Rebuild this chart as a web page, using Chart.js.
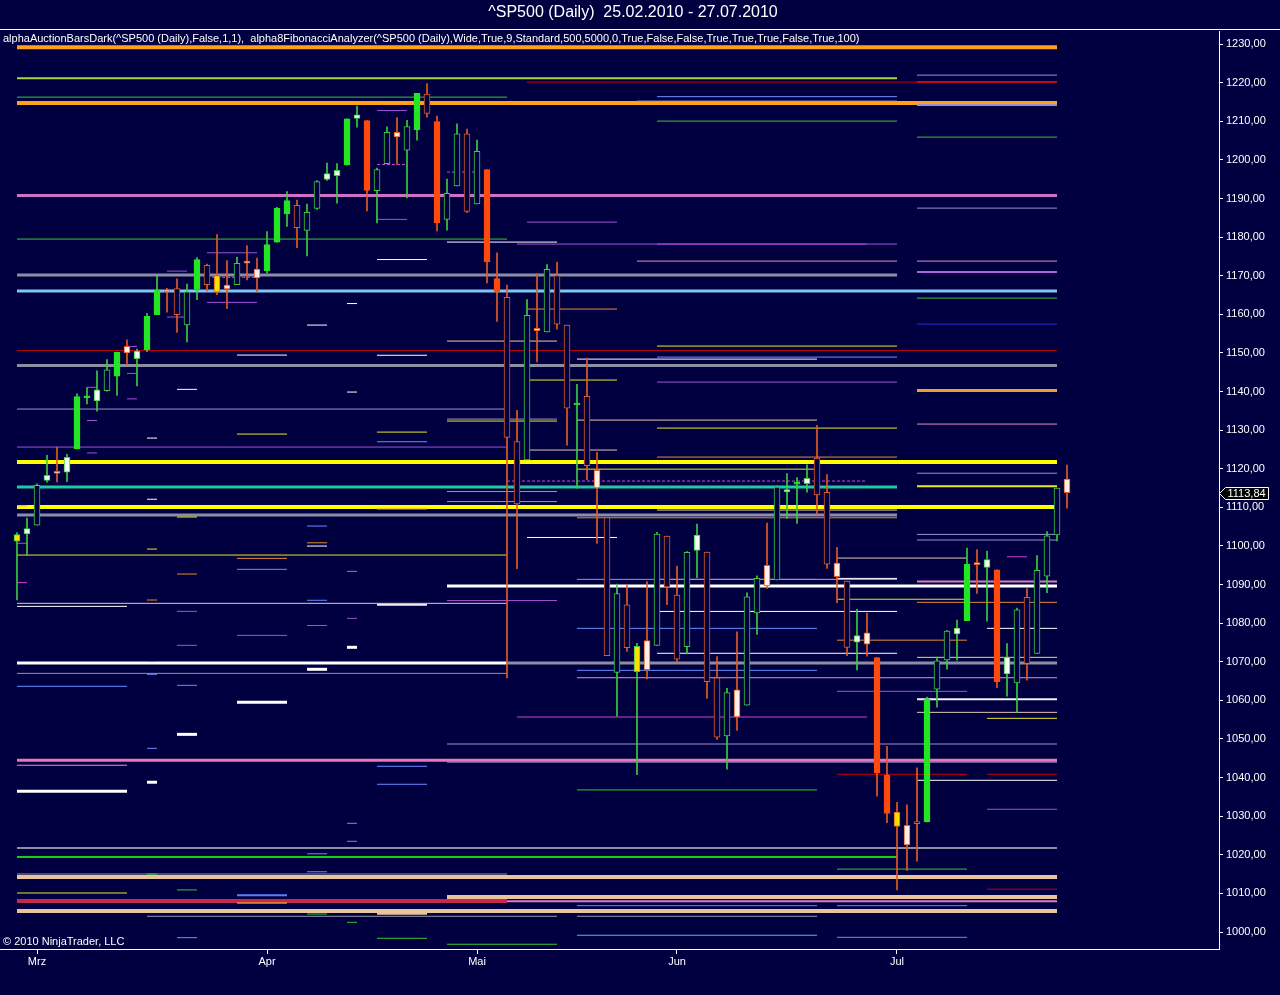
<!DOCTYPE html>
<html>
<head>
<meta charset="utf-8">
<title>^SP500 (Daily)</title>
<script src="https://cdn.jsdelivr.net/npm/chart.js@4"></script>
<style>
  html, body { margin: 0; padding: 0; background: #000040; overflow: hidden; }
  canvas { display: block; }
</style>
</head>
<body>
<canvas id="chart" width="1280" height="995"></canvas>
<script>
// ---- daily bars, 25.02.2010 - 27.07.2010 ----
var dates = [
  '25.02', '26.02',
  '01.03', '02.03', '03.03', '04.03', '05.03', '08.03', '09.03', '10.03', '11.03', '12.03', '15.03', '16.03',
  '17.03', '18.03', '19.03', '22.03', '23.03', '24.03', '25.03', '26.03', '29.03', '30.03', '31.03',
  '01.04', '05.04', '06.04', '07.04', '08.04', '09.04', '12.04', '13.04', '14.04', '15.04', '16.04',
  '19.04', '20.04', '21.04', '22.04', '23.04', '26.04', '27.04', '28.04', '29.04', '30.04',
  '03.05', '04.05', '05.05', '06.05', '07.05', '10.05', '11.05', '12.05', '13.05', '14.05',
  '17.05', '18.05', '19.05', '20.05', '21.05', '24.05', '25.05', '26.05', '27.05', '28.05',
  '01.06', '02.06', '03.06', '04.06', '07.06', '08.06', '09.06', '10.06', '11.06', '14.06', '15.06',
  '16.06', '17.06', '18.06', '21.06', '22.06', '23.06', '24.06', '25.06', '28.06', '29.06', '30.06',
  '01.07', '02.07', '06.07', '07.07', '08.07', '09.07', '12.07', '13.07', '14.07', '15.07', '16.07',
  '19.07', '20.07', '21.07', '22.07', '23.07', '26.07', '27.07'
];

var opens = [
  1101.24, 1103.10, 1105.36, 1117.01, 1119.36, 1119.12, 1125.12, 1138.40, 1137.56, 1140.22,
  1143.96, 1151.71, 1148.53, 1150.83, 1159.94, 1166.13, 1166.68, 1157.25, 1166.47, 1172.70,
  1170.03, 1167.58, 1167.71, 1173.75, 1171.75, 1171.23, 1178.71, 1186.01, 1188.23, 1181.75,
  1187.47, 1194.94, 1195.94, 1198.69, 1210.77, 1210.17, 1192.06, 1199.04, 1207.16, 1202.52,
  1207.87, 1217.07, 1209.92, 1184.59, 1193.30, 1206.77, 1188.58, 1197.50, 1169.24, 1164.38,
  1127.04, 1122.27, 1156.39, 1155.43, 1170.04, 1157.19, 1136.52, 1138.78, 1119.57, 1107.34,
  1067.26, 1084.78, 1067.42, 1075.51, 1074.27, 1102.59, 1087.30, 1073.89, 1098.82, 1098.43,
  1065.84, 1050.81, 1062.75, 1058.77, 1082.65, 1095.00, 1091.21, 1114.02, 1115.98, 1116.16,
  1122.79, 1113.90, 1095.57, 1090.93, 1075.10, 1077.50, 1071.10, 1040.56, 1031.10, 1027.65,
  1028.09, 1028.54, 1062.92, 1070.50, 1077.23, 1080.65, 1095.61, 1094.46, 1093.85, 1066.85,
  1064.53, 1086.67, 1072.14, 1092.17, 1102.89, 1117.36
];
var highs = [
  1103.50, 1107.24, 1116.11, 1123.46, 1125.64, 1123.73, 1139.38, 1141.05, 1145.37, 1148.26,
  1150.24, 1153.41, 1150.98, 1160.28, 1169.84, 1166.77, 1169.20, 1167.82, 1174.72, 1173.04,
  1180.69, 1173.93, 1174.85, 1177.83, 1174.56, 1181.43, 1187.73, 1191.80, 1189.60, 1188.55,
  1194.66, 1199.20, 1199.04, 1210.65, 1213.92, 1210.17, 1197.87, 1208.58, 1210.99, 1210.27,
  1217.28, 1219.80, 1211.38, 1195.05, 1209.36, 1207.99, 1205.13, 1197.50, 1175.95, 1167.58,
  1135.13, 1163.85, 1170.48, 1172.87, 1173.57, 1157.19, 1141.88, 1148.66, 1124.27, 1107.34,
  1090.16, 1089.95, 1074.75, 1090.75, 1103.52, 1102.59, 1094.77, 1098.56, 1105.67, 1098.43,
  1071.36, 1063.15, 1077.74, 1087.85, 1092.25, 1105.91, 1115.59, 1118.74, 1117.72, 1121.01,
  1131.23, 1118.50, 1099.64, 1090.93, 1083.56, 1082.60, 1071.10, 1048.08, 1033.58, 1032.95,
  1042.50, 1060.89, 1071.25, 1078.16, 1080.78, 1099.46, 1099.08, 1098.66, 1093.85, 1074.70,
  1083.94, 1088.96, 1097.50, 1103.73, 1115.01, 1120.95
];
var lows = [
  1086.02, 1097.56, 1105.36, 1116.51, 1116.58, 1116.66, 1125.12, 1136.77, 1134.90, 1140.09,
  1138.99, 1146.97, 1141.45, 1150.35, 1159.94, 1160.54, 1155.33, 1152.88, 1163.83, 1166.01,
  1165.09, 1161.48, 1167.71, 1168.92, 1165.77, 1170.69, 1178.71, 1182.77, 1177.25, 1175.12,
  1187.15, 1194.71, 1188.82, 1198.69, 1208.50, 1186.77, 1183.68, 1199.04, 1198.85, 1190.19,
  1205.10, 1211.07, 1181.62, 1181.81, 1193.30, 1186.32, 1188.58, 1168.12, 1158.15, 1065.79,
  1094.15, 1122.27, 1147.71, 1155.43, 1156.14, 1126.14, 1114.96, 1117.20, 1100.66, 1071.58,
  1055.90, 1072.70, 1040.78, 1065.59, 1074.27, 1084.78, 1069.89, 1072.03, 1091.81, 1060.50,
  1049.86, 1042.17, 1052.25, 1058.77, 1077.12, 1089.03, 1091.21, 1107.13, 1105.87, 1113.93,
  1108.24, 1094.18, 1085.31, 1071.60, 1067.89, 1071.45, 1035.18, 1028.33, 1010.91, 1015.93,
  1018.35, 1028.54, 1058.24, 1068.10, 1070.45, 1080.65, 1087.68, 1080.53, 1063.32, 1061.11,
  1056.88, 1065.25, 1072.14, 1087.88, 1101.30, 1109.78
];
var closes = [
  1102.93, 1104.49, 1115.71, 1118.31, 1118.79, 1122.97, 1138.70, 1138.50, 1140.45, 1145.61,
  1150.24, 1149.99, 1150.51, 1159.46, 1166.21, 1165.83, 1159.90, 1165.81, 1174.17, 1167.72,
  1165.73, 1166.59, 1173.22, 1173.27, 1169.43, 1178.10, 1187.44, 1189.44, 1182.45, 1186.44,
  1194.37, 1196.48, 1197.30, 1210.65, 1211.67, 1192.13, 1197.52, 1207.17, 1205.94, 1208.67,
  1217.28, 1212.05, 1183.71, 1191.36, 1206.78, 1186.69, 1202.26, 1173.60, 1165.90, 1128.15,
  1110.88, 1159.73, 1155.79, 1171.67, 1157.44, 1135.68, 1136.94, 1120.80, 1115.05, 1071.59,
  1087.69, 1073.65, 1074.03, 1067.95, 1103.06, 1089.41, 1070.71, 1098.38, 1102.83, 1064.88,
  1050.47, 1062.00, 1055.69, 1086.84, 1091.60, 1089.63, 1115.23, 1114.61, 1116.04, 1117.51,
  1113.20, 1095.31, 1092.04, 1073.69, 1076.76, 1074.57, 1041.24, 1030.71, 1027.37, 1022.58,
  1028.06, 1060.27, 1070.25, 1077.96, 1078.75, 1095.34, 1095.17, 1096.48, 1064.88, 1071.25,
  1083.48, 1069.59, 1093.67, 1102.66, 1115.01, 1113.84
];

// auction bar type per day: G/R filled, g/r hollow, wg/wr white body, yg/yr yellow body
var barTypes = [
  'yg', 'wg', 'g', 'wg', 'wr', 'wg', 'G', 'G', 'wg', 'g',
  'G', 'wr', 'wg', 'G', 'G', 'wr', 'r', 'g', 'G', 'r',
  'yr', 'wr', 'g', 'wr', 'wr', 'G', 'G', 'G', 'r', 'g',
  'g', 'wg', 'wg', 'G', 'wg', 'R', 'g', 'g', 'wr', 'g',
  'G', 'r', 'R', 'g', 'g', 'r', 'g', 'R', 'R', 'r',
  'r', 'g', 'wr', 'g', 'r', 'r', 'G', 'r', 'wr', 'r',
  'g', 'r', 'yg', 'wr', 'g', 'r', 'r', 'g', 'wg', 'r',
  'r', 'g', 'wr', 'g', 'g', 'wr', 'g', 'wg', 'G', 'wg',
  'r', 'r', 'wr', 'r', 'wg', 'wr', 'R', 'R', 'yr', 'wr',
  'r', 'G', 'g', 'g', 'wg', 'G', 'wr', 'wg', 'R', 'wg',
  'g', 'r', 'g', 'g', 'g', 'wr'
];

var monthTicks = [2, 25, 46, 66, 88];
var monthLabels = ['Mrz', 'Apr', 'Mai', 'Jun', 'Jul'];
var priceTicks = [1000, 1010, 1020, 1030, 1040, 1050, 1060, 1070, 1080, 1090, 1100, 1110,
                  1120, 1130, 1140, 1150, 1160, 1170, 1180, 1190, 1200, 1210, 1220, 1230];
var lastPrice = 1113.84;

// ---- fibonacci levels: [price, first bar, last bar] ----
var orangeBandLevels = [[1229.22, 0, 104], [1214.72, 0, 104]];
var orangeMidLevels = [[1140.26, 90, 104]];
var yellowBandLevels = [[1121.74, 0, 104], [1110.08, 0, 104]];
var tanBandLevels = [[1014.25, 0, 104], [1009.07, 43, 104], [1005.45, 0, 104], [1005.0, 36, 41]];
var crimsonBandLevels = [[1008.04, 0, 49]];
var pinkBandLevels = [[1044.5, 0, 104]];
var whiteBandLevels = [[1089.62, 43, 104], [1069.68, 0, 49], [1073.75, 33, 34], [1068.05, 29, 31],
                       [1059.5, 22, 27], [1051.2, 16, 18], [1038.8, 13, 14], [1036.45, 0, 11]];
var grayBandLevels = [[1170.17, 0, 88], [1146.73, 0, 104], [1108.0, 0, 88], [1069.68, 49, 104]];
var grayMidLevels = [[1021.77, 0, 104]];
var magentaBandLevels = [[1190.76, 0, 104]];
var lightBlueBandLevels = [[1166.03, 0, 104]];
var tealBandLevels = [[1115.26, 0, 88]];
var greenBandLevels = [[1019.44, 0, 88]];
var yellowGreenLevels = [[1221.19, 0, 88]];
var redLevels = [[1220.16, 51, 104], [1150.62, 0, 104], [1040.85, 82, 95], [1040.85, 97, 104], [1011.1, 97, 104]];
var redMidLevels = [[1220.16, 90, 104]];
var greenLevels = [[1216.27, 0, 49], [1210.06, 64, 88], [1205.91, 90, 104], [1179.5, 0, 49], [1164.21, 90, 104],
                   [1036.8, 56, 80], [1016.3, 82, 95], [1015.0, 13, 14], [1010.9, 16, 18], [1004.66, 29, 31],
                   [1002.52, 33, 34], [998.38, 36, 41], [996.83, 43, 54]];
var cyanLevels = [[999.16, 56, 80]];
var yellowLevels = [[1151.78, 64, 88], [1142.98, 51, 60], [1132.36, 43, 54], [1130.54, 64, 88], [1129.5, 36, 41],
                    [1128.99, 22, 27], [1119.9, 56, 80], [1107.5, 16, 18], [1099.2, 13, 14], [1097.65, 0, 49],
                    [1086.2, 82, 95], [1071.15, 90, 104], [1055.35, 97, 104], [1010.11, 0, 11], [1007.5, 22, 27]];
var yellowMidLevels = [[1115.45, 90, 104]];
var orangeLevels = [[1161.37, 51, 60], [1123.03, 64, 88], [1111.5, 43, 54], [1109.56, 36, 41], [1107.3, 56, 88],
                    [1100.83, 29, 31], [1096.79, 22, 27], [1092.73, 16, 18], [1086.0, 13, 14], [1085.4, 90, 104],
                    [1075.6, 82, 95]];
var beigeLevels = [[1153.08, 43, 54], [1132.61, 56, 80], [1124.85, 51, 60], [1109.3, 64, 88], [1096.87, 82, 95],
                   [1085.14, 0, 49], [1056.9, 90, 104]];
var whiteLevels = [[1178.72, 43, 54], [1174.2, 36, 41], [1162.8, 33, 34], [1157.22, 29, 31], [1149.45, 22, 27],
                   [1149.4, 36, 41], [1148.41, 56, 80], [1140.57, 16, 18], [1139.87, 33, 34], [1127.95, 13, 14],
                   [1112.1, 13, 14], [1102.2, 51, 60], [1099.98, 29, 31], [1091.6, 82, 88], [1084.36, 0, 11],
                   [1083.05, 64, 88], [1078.66, 97, 104], [1072.2, 64, 88], [1039.3, 90, 104]];
var whiteMidLevels = [[1060.3, 90, 104], [1084.79, 36, 41]];
var purpleLevels = [[1212.8, 36, 39], [1184.6, 36, 39], [1183.9, 51, 60], [1178.2, 50, 88], [1175.95, 19, 24],
                    [1171.2, 15, 17], [1163.1, 19, 24], [1159.3, 15, 17], [1151.7, 11, 12], [1144.7, 11, 12],
                    [1142.46, 64, 88], [1141.1, 7, 8], [1138.1, 11, 12], [1132.5, 7, 8], [1125.62, 0, 49],
                    [1124.1, 7, 8], [1085.87, 43, 54], [1083.07, 16, 18], [1081.26, 33, 34], [1079.4, 29, 31],
                    [1076.84, 22, 27], [1074.26, 16, 18], [1070.06, 13, 14], [1062.35, 82, 95], [1031.8, 97, 104]];
var magentaLevels = [[1178.2, 64, 85], [1100.7, 0, 1], [1097.2, 99, 101], [1090.5, 0, 1], [1055.7, 50, 85]];
var violetMidLevels = [[1170.95, 90, 104]];
var lilacLevels = [[1221.97, 90, 104], [1215.24, 62, 88], [1187.52, 90, 104], [1135.47, 0, 49], [1132.87, 43, 54],
                   [1118.85, 90, 104], [1114.1, 43, 54], [1103.0, 90, 104], [1101.54, 90, 104], [1091.35, 56, 80],
                   [1048.7, 43, 104], [1044.0, 43, 104]];
var lilacMidLevels = [[1214.2, 90, 104]];
var blueLevels = [[1216.4, 64, 88], [1148.93, 64, 88], [1127.0, 36, 41], [1105.16, 29, 31], [1093.95, 22, 27],
                  [1093.43, 33, 34], [1085.93, 29, 31], [1078.66, 56, 80], [1067.78, 56, 80], [1066.75, 13, 14],
                  [1063.9, 16, 18], [1063.65, 0, 11], [1047.59, 13, 14], [1042.93, 36, 41], [1038.27, 36, 41],
                  [1028.16, 33, 34], [1023.5, 33, 34], [1020.26, 29, 31], [1015.6, 29, 31], [1006.82, 56, 80],
                  [1006.82, 82, 95], [998.63, 82, 95], [998.54, 16, 18]];
var blueMidLevels = [[1009.51, 22, 27]];
var darkBlueLevels = [[1157.48, 90, 104]];
var pinkLevels = [[1173.8, 62, 88], [1173.8, 90, 104], [1131.58, 90, 104], [1110.4, 0, 1], [1091.35, 64, 88],
                  [1065.87, 56, 104], [1043.2, 0, 11]];
var pinkMidLevels = [[1090.8, 90, 104], [1008.0, 49, 104]];
var grayLevels = [[1067.0, 0, 49], [1015.03, 0, 49], [1004.07, 13, 54], [1004.07, 56, 80]];
var dashedLevels = [[1198.8, 36, 39], [1196.85, 43, 46], [1169.6, 19, 24], [1116.82, 49, 85]];

// ---- styles ----
var BG = '#000040';
var levelStyles = {
  orangeBand: { color: '#ffa21a', width: 4 },
  orangeMid: { color: '#f0a030', width: 3 },
  yellowBand: { color: '#ffff00', width: 4 },
  tanBand: { color: '#e8c49c', width: 4 },
  crimsonBand: { color: '#c8284e', width: 4 },
  pinkBand: { color: '#e878b4', width: 3 },
  whiteBand: { color: '#ffffff', width: 3 },
  grayBand: { color: '#8c8ea4', width: 3 },
  grayMid: { color: '#8c8ea4', width: 2 },
  magentaBand: { color: '#d070c8', width: 3 },
  lightBlueBand: { color: '#80c8f4', width: 3 },
  tealBand: { color: '#22c8a0', width: 3 },
  greenBand: { color: '#12d012', width: 2 },
  yellowGreen: { color: '#a8d838', width: 2 },
  red: { color: '#c00010', width: 1 },
  redMid: { color: '#d01020', width: 2 },
  green: { color: '#34c834', width: 1 },
  cyan: { color: '#40c8c0', width: 1 },
  yellow: { color: '#e8e820', width: 1 },
  yellowMid: { color: '#e8e820', width: 2 },
  orange: { color: '#e88a30', width: 1 },
  beige: { color: '#e8c8b0', width: 1 },
  white: { color: '#ffffff', width: 1 },
  whiteMid: { color: '#f4eef8', width: 2 },
  purple: { color: '#a050d8', width: 1 },
  magenta: { color: '#d040d0', width: 1 },
  violetMid: { color: '#b060e0', width: 2 },
  lilac: { color: '#9c90d0', width: 1 },
  lilacMid: { color: '#9c90d0', width: 2 },
  blue: { color: '#6c8cff', width: 1 },
  blueMid: { color: '#5c7cff', width: 2 },
  darkBlue: { color: '#2a2ad8', width: 1 },
  pink: { color: '#e890b8', width: 1 },
  pinkMid: { color: '#e078c8', width: 2 },
  gray: { color: '#9494ac', width: 1 },
  dashed: { color: '#c848d8', width: 1, dash: [3, 2] }
};
var levelGroups = [
  ['orangeBand', orangeBandLevels], ['orangeMid', orangeMidLevels], ['yellowBand', yellowBandLevels],
  ['tanBand', tanBandLevels], ['crimsonBand', crimsonBandLevels], ['pinkBand', pinkBandLevels],
  ['whiteBand', whiteBandLevels], ['grayBand', grayBandLevels], ['grayMid', grayMidLevels],
  ['magentaBand', magentaBandLevels], ['lightBlueBand', lightBlueBandLevels], ['tealBand', tealBandLevels],
  ['greenBand', greenBandLevels], ['yellowGreen', yellowGreenLevels], ['red', redLevels], ['redMid', redMidLevels],
  ['green', greenLevels], ['cyan', cyanLevels], ['yellow', yellowLevels], ['yellowMid', yellowMidLevels],
  ['orange', orangeLevels], ['beige', beigeLevels], ['white', whiteLevels], ['whiteMid', whiteMidLevels],
  ['purple', purpleLevels], ['magenta', magentaLevels], ['violetMid', violetMidLevels], ['lilac', lilacLevels],
  ['lilacMid', lilacMidLevels], ['blue', blueLevels], ['blueMid', blueMidLevels], ['darkBlue', darkBlueLevels],
  ['pink', pinkLevels], ['pinkMid', pinkMidLevels], ['gray', grayLevels], ['dashed', dashedLevels]
];

var UP_LINE = '#3ccc3c', UP_FILL = '#22e622';
var DN_LINE = '#e45a20', DN_FILL = '#ff4a0c';
function bodyFill(t) {
  if (t === 'G') return UP_FILL;
  if (t === 'R') return DN_FILL;
  if (t === 'wg') return '#f4fff4';
  if (t === 'wr') return '#fff0ec';
  if (t === 'yg' || t === 'yr') return '#ffde00';
  return BG;
}
function bodyLine(t) {
  if (t === 'G') return UP_FILL;
  if (t === 'R') return DN_FILL;
  return t.indexOf('g') >= 0 ? UP_LINE : DN_LINE;
}
function wickColor(t) {
  return (t === 'G' || t.indexOf('g') >= 0) ? UP_LINE : DN_LINE;
}

// ---- datasets ----
var datasets = [];
datasets.push({
  type: 'bar',
  data: opens.map(function (o, i) { return { x: i, y: [o, closes[i]] }; }),
  backgroundColor: function (c) { return bodyFill(barTypes[c.dataIndex]); },
  borderColor: function (c) { return bodyLine(barTypes[c.dataIndex]); },
  borderWidth: 1,
  borderSkipped: false,
  barThickness: 6,
  minBarLength: 2,
  grouped: false,
  order: 0
});
datasets.push({
  type: 'bar',
  data: lows.map(function (l, i) { return { x: i, y: [l, highs[i]] }; }),
  backgroundColor: function (c) { return wickColor(barTypes[c.dataIndex]); },
  borderWidth: 0,
  barThickness: 1,
  grouped: false,
  order: 1
});
levelGroups.forEach(function (g) {
  var st = levelStyles[g[0]];
  g[1].forEach(function (lv) {
    datasets.push({
      type: 'line',
      data: [{ x: lv[1], y: lv[0] }, { x: lv[2], y: lv[0] }],
      borderColor: st.color,
      borderWidth: st.width,
      borderDash: st.dash || [],
      pointRadius: 0,
      fill: false,
      order: st.width >= 3 ? 4 : 3
    });
  });
});

var FONT = 'Liberation Sans, Arial, sans-serif';
Chart.defaults.font.family = FONT;
Chart.defaults.color = '#ffffff';

var chrome = {
  id: 'chrome',
  beforeDraw: function (chart) {
    var ctx = chart.ctx;
    ctx.save();
    ctx.fillStyle = BG;
    ctx.fillRect(0, 0, chart.width, chart.height);
    ctx.restore();
  },
  afterDraw: function (chart) {
    var ctx = chart.ctx;
    ctx.save();
    ctx.fillStyle = '#ffffff';
    ctx.textBaseline = 'middle';
    ctx.font = '16px ' + FONT;
    ctx.textAlign = 'center';
    ctx.fillText('^SP500 (Daily)  25.02.2010 - 27.07.2010', 633, 13);

    ctx.strokeStyle = '#ffffff';
    ctx.lineWidth = 1;
    ctx.beginPath();
    ctx.moveTo(0, 29.5);
    ctx.lineTo(chart.width, 29.5);
    ctx.stroke();

    ctx.textAlign = 'left';
    ctx.font = '11px ' + FONT;
    ctx.fillText('alphaAuctionBarsDark(^SP500 (Daily),False,1,1),  alpha8FibonacciAnalyzer(^SP500 (Daily),Wide,True,9,Standard,500,5000,0,True,False,False,True,True,True,False,True,100)', 3, 39);
    ctx.fillText('\u00a9 2010 NinjaTrader, LLC', 3, 942);

    // last price marker on the price axis
    var y = Math.round(chart.scales.y.getPixelForValue(lastPrice)) + 0.5;
    var left = chart.chartArea.right + 0.5;
    ctx.beginPath();
    ctx.moveTo(left, y);
    ctx.lineTo(left + 6, y - 6);
    ctx.lineTo(1268.5, y - 6);
    ctx.lineTo(1268.5, y + 6);
    ctx.lineTo(left + 6, y + 6);
    ctx.closePath();
    ctx.fillStyle = '#000000';
    ctx.fill();
    ctx.stroke();
    ctx.fillStyle = '#ffffff';
    ctx.fillText(lastPrice.toFixed(2).replace('.', ','), left + 8, y + 0.5);
    ctx.restore();
  }
};

new Chart(document.getElementById('chart'), {
  type: 'bar',
  data: { datasets: datasets },
  options: {
    responsive: false,
    animation: false,
    devicePixelRatio: 1,
    events: [],
    layout: { padding: { top: 31, left: 0, right: 0, bottom: 0 } },
    plugins: { legend: { display: false }, tooltip: { enabled: false }, title: { display: false } },
    scales: {
      x: {
        type: 'linear',
        min: -1.7,
        max: 120.2,
        offset: false,
        afterBuildTicks: function (axis) {
          axis.ticks = monthTicks.map(function (v) { return { value: v }; });
        },
        afterFit: function (axis) { axis.height = 46; },
        ticks: {
          autoSkip: false,
          maxRotation: 0,
          padding: 1,
          color: '#ffffff',
          font: { size: 11 },
          callback: function (v) { return monthLabels[monthTicks.indexOf(v)]; }
        },
        grid: { offset: false, drawOnChartArea: false, drawTicks: true, tickLength: 5, color: '#ffffff' },
        border: { display: true, color: '#ffffff', width: 1 }
      },
      y: {
        type: 'linear',
        position: 'right',
        min: 995.6,
        max: 1233.4,
        afterBuildTicks: function (axis) {
          axis.ticks = priceTicks.map(function (v) { return { value: v }; });
        },
        afterFit: function (axis) { axis.width = 61; },
        ticks: {
          padding: 3,
          color: '#ffffff',
          font: { size: 11 },
          callback: function (v) { return Number(v).toFixed(2).replace('.', ','); }
        },
        grid: { drawOnChartArea: false, drawTicks: true, tickLength: 4, color: '#ffffff' },
        border: { display: true, color: '#ffffff', width: 1 }
      }
    }
  },
  plugins: [chrome]
});
</script>
</body>
</html>
